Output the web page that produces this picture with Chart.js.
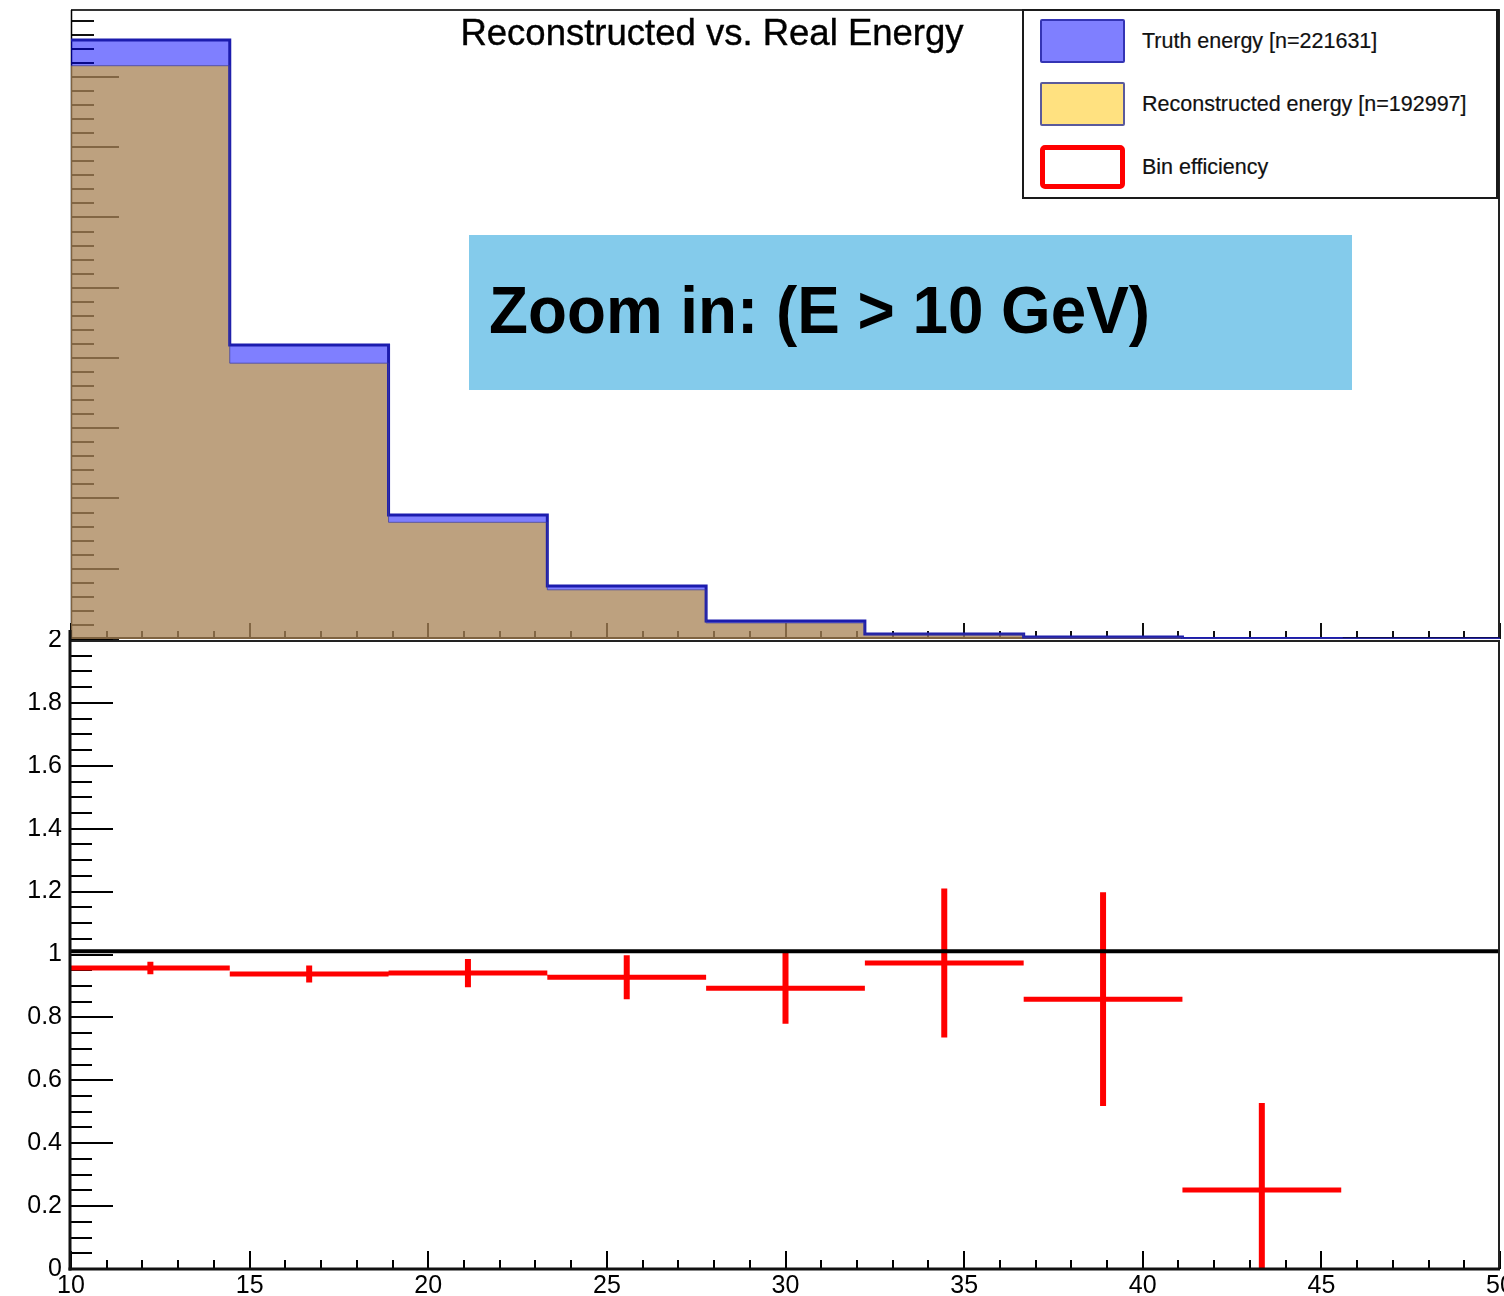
<!DOCTYPE html>
<html><head><meta charset="utf-8">
<script src="https://cdn.jsdelivr.net/npm/chart.js@4.4.1/dist/chart.umd.min.js"></script>
<style>
html,body{margin:0;padding:0;background:#fff;}
#wrap{position:relative;width:1504px;height:1296px;overflow:hidden;font-family:"Liberation Sans",Arial,Helvetica,sans-serif;}
.cv{position:absolute;left:0;width:1504px;}
#title{position:absolute;left:712px;top:15px;transform:translateX(-50%);font-size:36.5px;line-height:36.5px;white-space:nowrap;color:#000;-webkit-text-stroke:0.4px #000;}
#legend{position:absolute;left:1022px;top:9px;width:477px;height:190px;box-sizing:border-box;border:2px solid #1a1a1a;border-right-width:3px;background:#fff;}
.sw{position:absolute;left:1040px;width:85px;height:44px;box-sizing:border-box;}
.lt{position:absolute;left:1142px;height:44px;line-height:44px;font-size:21.5px;color:#111;white-space:nowrap;-webkit-text-stroke:0.2px #111;}
#zoombox{position:absolute;left:469px;top:235px;width:883px;height:155px;background:rgb(132,203,235);}
#zoomtext{position:absolute;left:489px;top:276px;font-size:67px;line-height:67px;font-weight:bold;white-space:nowrap;transform:scaleX(0.952);transform-origin:left top;color:#000;}
</style></head>
<body>
<div id="wrap">
  <div class="cv" style="top:0;height:645px;"><canvas id="upper"></canvas></div>
  <div class="cv" style="top:630px;height:666px;"><canvas id="lower"></canvas></div>
  <div id="title">Reconstructed vs. Real Energy</div>
  <div id="legend"></div>
  <div class="sw" style="top:19px;background:#7f7fff;border:2px solid #3434b4;border-radius:2px;"></div>
  <div class="sw" style="top:82px;background:#ffe180;border:2px solid #5a5a9c;border-radius:2px;"></div>
  <div class="sw" style="top:145px;background:#fff;border:5px solid #ff0000;border-radius:5px;"></div>
  <div class="lt" style="top:19px;">Truth energy [n=221631]</div>
  <div class="lt" style="top:82px;">Reconstructed energy [n=192997]</div>
  <div class="lt" style="top:145px;">Bin efficiency</div>
  <div id="zoombox"></div>
  <div id="zoomtext">Zoom in: (E &gt; 10 GeV)</div>
</div>
<script>
// ---------------- data ----------------
const binEdges     = [10, 14.444, 18.889, 23.333, 27.778, 32.222, 36.667, 41.111, 45.556, 50];
const truthCounts  = [85270, 41850, 17650, 7540, 2560, 710, 285, 70, 0];
const recoCounts   = [81600, 39260, 16610, 7000, 2290, 690, 245, 18, 0];
const upperYMax    = 89530;
const binCenters   = [12.222, 16.667, 21.111, 25.556, 30.0, 34.444, 38.889, 43.333];
const efficiency   = [0.957, 0.938, 0.941, 0.928, 0.893, 0.973, 0.858, 0.251];
const effError     = [0.020, 0.027, 0.045, 0.070, 0.113, 0.237, 0.340, 0.277];
const refLineValue = 1.01;
const xTickValues  = [10, 15, 20, 25, 30, 35, 40, 45, 50];
const xTickLabels  = ['10', '15', '20', '25', '30', '35', '40', '45', '50'];
const yTickValues  = [0, 0.2, 0.4, 0.6, 0.8, 1, 1.2, 1.4, 1.6, 1.8, 2];
const yTickLabels  = ['0', '0.2', '0.4', '0.6', '0.8', '1', '1.2', '1.4', '1.6', '1.8', '2'];

const FONT = '"Liberation Sans", Arial, Helvetica, sans-serif';

// step-histogram points (left edges + final right edge)
function histPoints(counts) {
  return binEdges.map((e, i) => ({x: e, y: counts[Math.min(i, counts.length - 1)]}));
}
const effHoriz = [];
const effVert = [];
efficiency.forEach((v, i) => {
  effHoriz.push({x: binEdges[i], y: v}, {x: binEdges[i + 1], y: v}, {x: binEdges[i + 1], y: null});
  effVert.push({x: binCenters[i], y: v - effError[i]}, {x: binCenters[i], y: v + effError[i]}, {x: binCenters[i], y: null});
});

// tick mark positions (values, mapped through the scales)
function range(a, b, step) { const out = []; const n = Math.round((b - a) / step); for (let i = 0; i <= n; i++) out.push(+(a + i * step).toFixed(6)); return out; }
const upperYMajor = range(0, 80000, 10000);
const upperYMinor = range(0, 88000, 2000).filter(v => v % 10000 !== 0);
const xMajor = xTickValues;
const xMinor = range(10, 50, 1).filter(v => v % 5 !== 0);
const lowerYMajor = yTickValues;
const lowerYMinor = range(0, 2, 0.05).filter(v => Math.abs(v * 5 - Math.round(v * 5)) > 1e-6);

function drawTicks(chart, spec) {
  const ctx = chart.ctx, xs = chart.scales.x, ys = chart.scales.y, a = chart.chartArea;
  ctx.save();
  ctx.strokeStyle = spec.color || '#000';
  ctx.lineWidth = 2;
  ctx.beginPath();
  spec.yMajor.forEach(v => { const y = Math.round(ys.getPixelForValue(v)); ctx.moveTo(a.left, y); ctx.lineTo(a.left + spec.yMajorLen, y); });
  spec.yMinor.forEach(v => { const y = Math.round(ys.getPixelForValue(v)); ctx.moveTo(a.left, y); ctx.lineTo(a.left + spec.yMinorLen, y); });
  spec.xMajor.forEach(v => { const x = Math.round(xs.getPixelForValue(v)); ctx.moveTo(x, a.bottom); ctx.lineTo(x, a.bottom - spec.xMajorLen); });
  spec.xMinor.forEach(v => { const x = Math.round(xs.getPixelForValue(v)); ctx.moveTo(x, a.bottom); ctx.lineTo(x, a.bottom - spec.xMinorLen); });
  ctx.stroke();
  ctx.restore();
}
function line(ctx, x1, y1, x2, y2, w, c) {
  ctx.save(); ctx.strokeStyle = c; ctx.lineWidth = w; ctx.beginPath(); ctx.moveTo(x1, y1); ctx.lineTo(x2, y2); ctx.stroke(); ctx.restore();
}

const upperPlugin = {
  id: 'upperFrame',
  beforeDraw(chart) {
    const a = chart.chartArea, ctx = chart.ctx;
    drawTicks(chart, {yMajor: upperYMajor, yMinor: upperYMinor, yMajorLen: 48, yMinorLen: 23,
                      xMajor: xMajor, xMinor: xMinor, xMajorLen: 16, xMinorLen: 8, color: '#101010'});
    line(ctx, a.left, a.top, a.right, a.top, 2, '#333');
    line(ctx, a.left + 0.5, a.top, a.left + 0.5, a.bottom, 1.5, '#000');
    line(ctx, a.right - 1, a.top, a.right - 1, a.bottom, 2, '#222');
    line(ctx, a.left, a.bottom - 1, a.right, a.bottom - 1, 2, '#000');
  }
};
const lowerPlugin = {
  id: 'lowerFrame',
  beforeDraw(chart) {
    drawTicks(chart, {yMajor: lowerYMajor, yMinor: lowerYMinor, yMajorLen: 42, yMinorLen: 21,
                      xMajor: xMajor, xMinor: xMinor, xMajorLen: 18, xMinorLen: 9});
  },
  afterDatasetsDraw(chart) {
    const a = chart.chartArea, ctx = chart.ctx;
    line(ctx, a.left, a.top + 1, a.right, a.top + 1, 2, '#222');
    line(ctx, a.right - 1, a.top, a.right - 1, a.bottom, 2, '#222');
    line(ctx, a.left - 1, a.top - 12, a.left - 1, a.bottom + 1.5, 3, '#111');
    line(ctx, a.left - 2.5, a.bottom, a.right, a.bottom, 3, '#111');
  }
};

const common = {
  animation: false, responsive: true, maintainAspectRatio: false, devicePixelRatio: 1, events: []
};

new Chart(document.getElementById('upper'), {
  type: 'line',
  data: {
    datasets: [
      { label: 'Reconstructed energy [n=192997]', data: histPoints(recoCounts), stepped: true,
        fill: 'origin', backgroundColor: 'rgba(252,196,0,0.5)', borderColor: 'rgba(60,60,150,0.7)',
        borderWidth: 1, pointRadius: 0, tension: 0 },
      { label: 'Truth energy [n=221631]', data: histPoints(truthCounts), stepped: true,
        fill: 'origin', backgroundColor: 'rgba(0,0,255,0.5)', borderColor: '#1c1cae',
        borderWidth: 3, pointRadius: 0, tension: 0 }
    ]
  },
  options: Object.assign({}, common, {
    layout: { padding: { left: 71, right: 4, top: 10, bottom: 6 } },
    plugins: { legend: { display: false }, tooltip: { enabled: false }, filler: { drawTime: 'beforeDatasetsDraw' } },
    scales: {
      x: { type: 'linear', min: 10, max: 50, display: false },
      y: { type: 'linear', min: 0, max: upperYMax, display: false }
    }
  }),
  plugins: [upperPlugin]
});

new Chart(document.getElementById('lower'), {
  type: 'line',
  data: {
    datasets: [
      { label: 'ref', data: [{x: 10, y: refLineValue}, {x: 50, y: refLineValue}], borderColor: '#000',
        borderWidth: 4, pointRadius: 0, fill: false },
      { label: 'Bin efficiency', data: effHoriz, borderColor: '#ff0000', borderWidth: 5,
        pointRadius: 0, fill: false, spanGaps: false, borderCapStyle: 'butt' },
      { label: 'Bin efficiency error', data: effVert, borderColor: '#ff0000', borderWidth: 6,
        pointRadius: 0, fill: false, spanGaps: false, borderCapStyle: 'butt' }
    ]
  },
  options: Object.assign({}, common, {
    layout: { padding: { left: 0, right: 4, top: 10, bottom: 0 } },
    plugins: { legend: { display: false }, tooltip: { enabled: false } },
    scales: {
      x: { type: 'linear', min: 10, max: 50,
        afterBuildTicks: s => { s.ticks = xTickValues.map(v => ({value: v})); },
        ticks: { callback: (v, i) => xTickLabels[i], font: { size: 25, family: FONT }, color: '#000',
                 padding: 2, maxRotation: 0, minRotation: 0, autoSkip: false },
        grid: { display: false, drawTicks: false }, border: { display: false },
        afterFit: s => { s.height = 27; s.paddingLeft = 0; s.paddingRight = 0; } },
      y: { type: 'linear', min: 0, max: 2,
        afterBuildTicks: s => { s.ticks = yTickValues.map(v => ({value: v})); },
        ticks: { callback: (v, i) => yTickLabels[i], font: { size: 25, family: FONT }, color: '#000',
                 padding: 9, autoSkip: false },
        grid: { display: false, drawTicks: false }, border: { display: false },
        afterFit: s => { s.width = 71; s.paddingTop = 0; s.paddingBottom = 0; } }
    }
  }),
  plugins: [lowerPlugin]
});
</script>
</body></html>
